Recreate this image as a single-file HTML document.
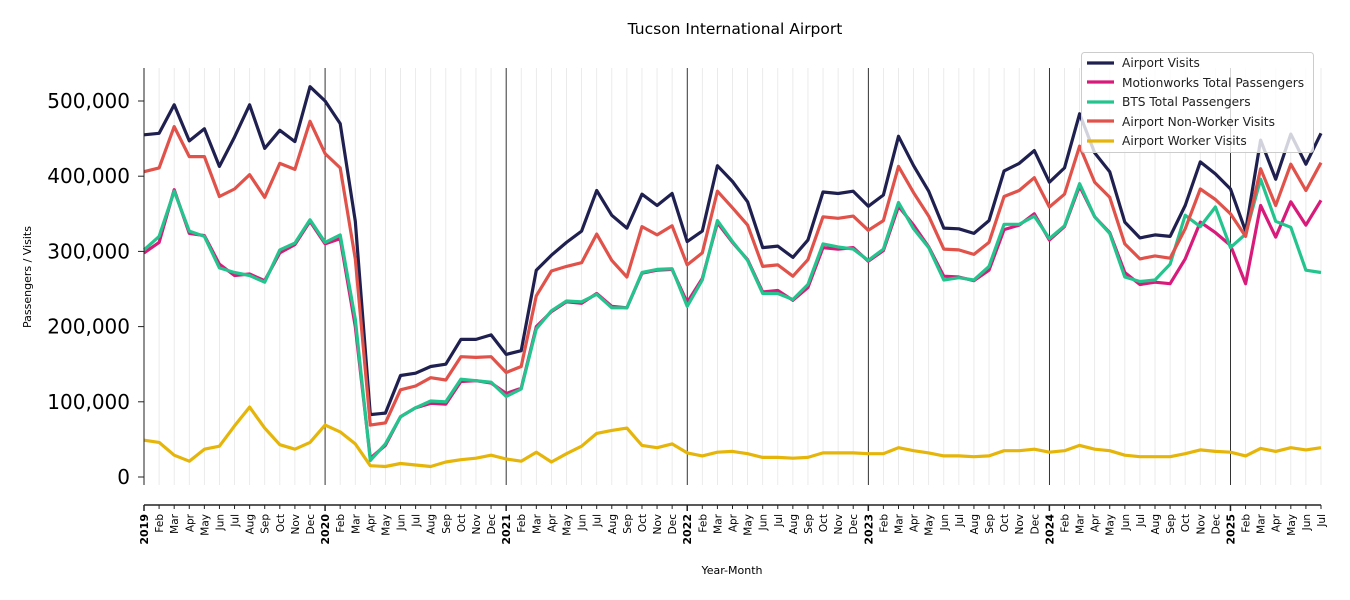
<!DOCTYPE html>
<html><head><meta charset="utf-8"><style>
body{margin:0;background:#fff}
svg{display:block;font-family:"DejaVu Sans","Liberation Sans",sans-serif}
</style></head><body>
<svg id="s" width="1350" height="600" xmlns="http://www.w3.org/2000/svg">
<text x="735" y="34" font-size="15.5" text-anchor="middle">Tucson International Airport</text>
<g id="grid"></g>
<g id="lines" fill="none" stroke-width="3.2" stroke-linejoin="round"></g>
<g id="axes"></g>
<text transform="translate(31,277) rotate(-90)" font-size="11" text-anchor="middle">Passengers / Visits</text>
<text x="732" y="574" font-size="11" text-anchor="middle">Year-Month</text>
<g>
<rect x="1081.5" y="52.5" width="232" height="100" rx="3" fill="rgba(255,255,255,0.8)" stroke="#ccc"/>
<g font-size="12.2" fill="#222">
<line x1="1087" y1="63" x2="1114" y2="63" stroke="#1f2050" stroke-width="3.2"/><text x="1122" y="67">Airport Visits</text>
<line x1="1087" y1="82" x2="1114" y2="82" stroke="#d81b7a" stroke-width="3.2"/><text x="1122" y="87">Motionworks Total Passengers</text>
<line x1="1087" y1="102" x2="1114" y2="102" stroke="#24c48e" stroke-width="3.2"/><text x="1122" y="106">BTS Total Passengers</text>
<line x1="1087" y1="121" x2="1114" y2="121" stroke="#e0524a" stroke-width="3.2"/><text x="1122" y="126">Airport Non-Worker Visits</text>
<line x1="1087" y1="141" x2="1114" y2="141" stroke="#e6b50a" stroke-width="3.2"/><text x="1122" y="145">Airport Worker Visits</text>
</g></g>
</svg>
<script>
const NS="http://www.w3.org/2000/svg";
function el(p,t,a,txt){const e=document.createElementNS(NS,t);for(const k in a)e.setAttribute(k,a[k]);if(txt!=null)e.textContent=txt;p.appendChild(e);return e;}
const X=i=>144+i*1177/78, Y=v=>477-v*0.752;
const grid=document.getElementById('grid'),axes=document.getElementById('axes'),lines=document.getElementById('lines');
const M=["Jan","Feb","Mar","Apr","May","Jun","Jul","Aug","Sep","Oct","Nov","Dec"];
for(let i=0;i<=78;i++){const x=X(i),yr=i%12==0;
 el(grid,'line',{x1:x,y1:68,x2:x,y2:485,stroke:yr?'#000':'#e6e6e6','stroke-width':0.8});
 el(axes,'line',{x1:x,y1:505,x2:x,y2:yr?511:509,stroke:'#222','stroke-width':yr?1.5:1});
 const t=yr?String(2019+i/12):M[i%12];
 el(axes,'text',{transform:`translate(${x+4},${514}) rotate(-90)`,'font-size':yr?11:10.5,'font-weight':yr?'bold':'normal','text-anchor':'end'},t);
}
el(axes,'line',{x1:144,y1:505,x2:1321,y2:505,stroke:'#222','stroke-width':1.5});
el(axes,'line',{x1:144,y1:68,x2:144,y2:485,stroke:'#222','stroke-width':1});
for(let v=0;v<=500;v+=100){const y=Y(v);
 el(axes,'line',{x1:138,y1:y,x2:144,y2:y,stroke:'#222','stroke-width':1});
 el(axes,'text',{x:130,y:y+7,'font-size':20,'text-anchor':'end'},v==0?'0':v+',000');}
const D={
"#1f2050":[455,457,495,447,463,413,452,495,437,461,446,519,500,470,340,83,85,135,138,147,150,183,183,189,163,168,275,295,312,327,381,348,331,376,361,377,313,327,414,393,366,305,307,292,315,379,377,380,360,375,453,414,380,331,330,324,341,407,417,434,392,411,483,431,406,339,318,322,320,361,419,403,383,327,448,396,456,416,457],
"#d81b7a":[298,312,382,324,321,283,268,270,261,298,309,340,310,317,200,25,42,80,92,98,97,127,128,125,111,118,200,220,233,231,244,227,225,271,275,276,232,264,338,312,289,246,248,235,252,305,303,305,287,301,360,335,306,267,266,261,275,329,335,350,315,333,387,346,325,272,256,259,257,290,339,325,308,257,361,319,366,335,368],
"#24c48e":[302,320,380,327,320,278,272,268,259,302,311,342,312,322,210,22,44,80,92,101,100,130,128,126,107,117,197,221,234,233,243,225,225,272,276,277,227,262,341,313,288,244,244,236,256,310,306,303,288,303,365,330,305,262,265,262,280,336,336,347,317,334,390,346,324,266,260,262,283,348,333,359,305,323,396,340,332,275,272],
"#e0524a":[406,411,466,426,426,373,383,402,372,417,409,473,430,411,290,69,72,116,121,132,129,160,159,160,139,147,241,274,280,285,323,288,266,333,322,334,282,298,380,358,335,280,282,267,289,346,344,347,328,341,413,378,347,303,302,296,312,373,381,398,359,376,440,392,372,310,290,294,291,330,383,369,350,320,410,361,416,381,418],
"#e6b50a":[49,46,29,21,37,41,68,93,65,43,37,46,69,60,44,15,14,18,16,14,20,23,25,29,24,21,33,20,31,41,58,62,65,42,39,44,32,28,33,34,31,26,26,25,26,32,32,32,31,31,39,35,32,28,28,27,28,35,35,37,33,35,42,37,35,29,27,27,27,31,36,34,33,28,38,34,39,36,39]};
for(const c in D)el(lines,'polyline',{stroke:c,points:D[c].map((v,i)=>X(i).toFixed(1)+','+Y(v).toFixed(1)).join(' ')});
</script>
</body></html>
